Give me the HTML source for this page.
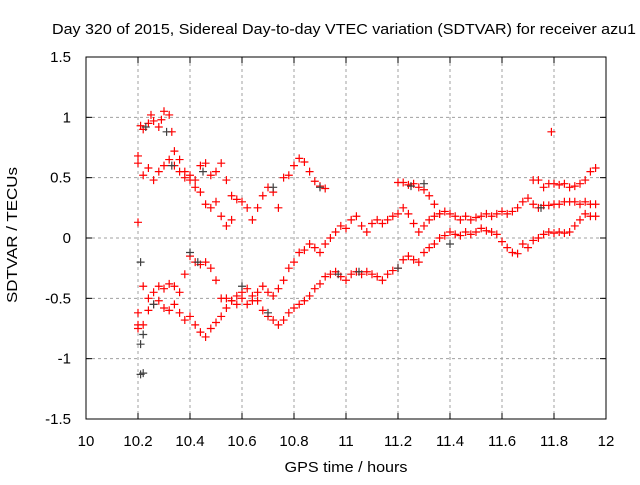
<!DOCTYPE html>
<html><head><meta charset="utf-8"><style>
body{margin:0;background:#fff}
svg text{font-family:"Liberation Sans",sans-serif;font-size:15px;fill:#000}
</style></head><body>
<svg id="chart" width="640" height="480" viewBox="0 0 640 480" xmlns="http://www.w3.org/2000/svg">
<rect width="640" height="480" fill="#fff"/>
<text x="52" y="34" textLength="584" lengthAdjust="spacingAndGlyphs">Day 320 of 2015, Sidereal Day-to-day VTEC variation (SDTVAR) for receiver azu1</text>
<text x="0" y="0" text-anchor="middle" textLength="136" lengthAdjust="spacingAndGlyphs" transform="translate(17 235) rotate(-90)">SDTVAR / TECUs</text>
<text x="346" y="472" text-anchor="middle" textLength="123" lengthAdjust="spacingAndGlyphs">GPS time / hours</text>
<g id="grid"></g><g id="axes"></g><g id="marks"></g>
</svg>
<script>
const xTicks=[10,10.2,10.4,10.6,10.8,11,11.2,11.4,11.6,11.8,12];
const xTickLabels=["10","10.2","10.4","10.6","10.8","11","11.2","11.4","11.6","11.8","12"];
const yTicks=[-1.5,-1,-0.5,0,0.5,1,1.5];
const yTickLabels=["-1.5","-1","-0.5","0","0.5","1","1.5"];
const trackA1=[[10.20,0.68],[10.21,0.93],[10.22,0.90],[10.24,0.95],[10.25,1.02],[10.26,0.97],[10.28,0.92],[10.29,0.98],[10.30,1.05],[10.32,1.02],[10.33,0.88],[10.34,0.72],[10.36,0.65],[10.38,0.55],[10.40,0.48],[10.42,0.42],[10.44,0.38],[10.46,0.28],[10.48,0.25],[10.50,0.30],[10.52,0.18],[10.54,0.10],[10.56,0.15]];
const trackA2=[[10.20,0.62],[10.22,0.52],[10.24,0.58],[10.26,0.48],[10.28,0.55],[10.30,0.60],[10.32,0.65],[10.34,0.60],[10.36,0.55],[10.38,0.50],[10.40,0.52],[10.42,0.48],[10.44,0.60],[10.46,0.62],[10.48,0.52],[10.50,0.55],[10.52,0.62],[10.54,0.48],[10.56,0.35],[10.58,0.32],[10.60,0.30],[10.62,0.25],[10.64,0.15],[10.66,0.25],[10.68,0.35],[10.70,0.42],[10.72,0.38],[10.74,0.25],[10.76,0.50],[10.78,0.52],[10.80,0.60],[10.82,0.66],[10.84,0.63],[10.86,0.55],[10.88,0.47],[10.90,0.43],[10.92,0.41]];
const trackB=[[10.20,-0.62],[10.22,-0.40],[10.24,-0.50],[10.26,-0.45],[10.28,-0.40],[10.30,-0.42],[10.32,-0.38],[10.34,-0.40],[10.36,-0.45],[10.38,-0.30],[10.40,-0.15],[10.42,-0.20],[10.44,-0.22],[10.46,-0.20],[10.48,-0.25],[10.50,-0.35],[10.52,-0.50],[10.54,-0.50],[10.56,-0.52],[10.58,-0.55],[10.60,-0.45],[10.62,-0.42],[10.64,-0.48],[10.66,-0.52],[10.68,-0.60],[10.70,-0.65],[10.72,-0.68],[10.74,-0.72],[10.76,-0.68],[10.78,-0.62],[10.80,-0.58],[10.82,-0.55],[10.84,-0.52],[10.86,-0.48],[10.88,-0.42],[10.90,-0.38],[10.92,-0.32],[10.94,-0.30],[10.96,-0.28],[10.98,-0.32],[11.00,-0.35],[11.02,-0.30],[11.04,-0.28],[11.06,-0.30],[11.08,-0.28],[11.10,-0.30],[11.12,-0.32],[11.14,-0.35],[11.16,-0.30],[11.18,-0.27],[11.20,-0.25],[11.22,-0.18],[11.24,-0.15],[11.26,-0.18],[11.28,-0.20],[11.30,-0.12],[11.32,-0.08],[11.34,-0.05],[11.36,0.00],[11.38,0.02],[11.40,0.05],[11.42,0.03],[11.44,0.02],[11.46,0.05],[11.48,0.03],[11.50,0.05],[11.52,0.08],[11.54,0.06],[11.56,0.05],[11.58,0.03],[11.60,-0.03],[11.62,-0.08],[11.64,-0.12],[11.66,-0.13],[11.68,-0.05],[11.70,-0.08],[11.72,-0.02],[11.74,0.00],[11.76,0.03],[11.78,0.05],[11.80,0.04],[11.82,0.05],[11.84,0.04],[11.86,0.05],[11.88,0.10],[11.90,0.15],[11.92,0.20],[11.94,0.18],[11.96,0.18]];
const trackC=[[10.20,-0.75],[10.22,-0.72],[10.24,-0.60],[10.26,-0.55],[10.28,-0.52],[10.30,-0.58],[10.32,-0.60],[10.34,-0.55],[10.36,-0.62],[10.38,-0.68],[10.40,-0.65],[10.42,-0.72],[10.44,-0.78],[10.46,-0.82],[10.48,-0.75],[10.50,-0.70],[10.52,-0.65],[10.54,-0.58],[10.56,-0.52],[10.58,-0.48],[10.60,-0.50],[10.62,-0.55],[10.64,-0.52],[10.66,-0.45],[10.68,-0.40],[10.70,-0.45],[10.72,-0.48],[10.74,-0.42],[10.76,-0.35],[10.78,-0.25],[10.80,-0.20],[10.82,-0.12],[10.84,-0.10],[10.86,-0.05],[10.88,-0.08],[10.90,-0.12],[10.92,-0.05],[10.94,0.00],[10.96,0.05],[10.98,0.10],[11.00,0.08],[11.02,0.15],[11.04,0.18],[11.06,0.10],[11.08,0.05],[11.10,0.12],[11.12,0.15],[11.14,0.12],[11.16,0.15],[11.18,0.18],[11.20,0.20],[11.22,0.25],[11.24,0.20],[11.26,0.12],[11.28,0.05],[11.30,0.10],[11.32,0.15],[11.34,0.18],[11.36,0.20],[11.38,0.22],[11.40,0.20],[11.42,0.18],[11.44,0.15],[11.46,0.18],[11.48,0.15],[11.50,0.17],[11.52,0.18],[11.54,0.20],[11.56,0.18],[11.58,0.20],[11.60,0.22],[11.62,0.20],[11.64,0.22],[11.66,0.25],[11.68,0.30],[11.70,0.33],[11.72,0.28],[11.74,0.25],[11.76,0.27],[11.78,0.27],[11.80,0.28],[11.82,0.28],[11.84,0.30],[11.86,0.30],[11.88,0.30],[11.90,0.28],[11.92,0.30],[11.94,0.28],[11.96,0.28]];
const trackD=[[11.20,0.46],[11.22,0.46],[11.24,0.44],[11.26,0.45],[11.28,0.42],[11.30,0.40],[11.32,0.35],[11.34,0.28],[11.36,0.20]];
const trackE=[[11.72,0.48],[11.74,0.48],[11.76,0.42],[11.78,0.45],[11.79,0.88],[11.80,0.45],[11.82,0.44],[11.84,0.45],[11.86,0.42],[11.88,0.43],[11.90,0.45],[11.92,0.48],[11.94,0.55],[11.96,0.58],[10.20,0.13],[10.20,-0.72]];
const grayPts=[[10.21,-1.13],[10.22,-1.12],[10.21,-0.88],[10.22,-0.80],[10.21,-0.20],[10.23,0.92],[10.31,0.88],[10.33,0.60],[10.45,0.55],[10.40,-0.12],[10.43,-0.20],[10.60,-0.40],[10.70,-0.62],[10.90,0.42],[11.05,-0.28],[11.20,-0.25],[11.30,0.45],[11.40,-0.05],[11.75,0.25],[10.97,-0.30],[11.25,0.43],[10.26,-0.55],[10.72,0.42]];
const NS="http://www.w3.org/2000/svg";
const L=86,R=606,T=57,B=419;
function sx(v){return L+(v-10)/2*(R-L);}
function sy(v){return B-(v+1.5)/3*(B-T);}
function mk(tag,attrs,parent){const e=document.createElementNS(NS,tag);for(const k in attrs)e.setAttribute(k,attrs[k]);parent.appendChild(e);return e;}
const grid=document.getElementById('grid'),axes=document.getElementById('axes'),marks=document.getElementById('marks');
xTicks.forEach((t,i)=>{const x=sx(t);
 if(i>0&&i<xTicks.length-1){const g=mk('line',{x1:x,x2:x,y1:T,y2:B,stroke:'#a0a0a0','stroke-dasharray':'3,3'},grid);
 
 }
 mk('line',{x1:x,x2:x,y1:B,y2:B-6,stroke:'#000'},axes);mk('line',{x1:x,x2:x,y1:T,y2:T+6,stroke:'#000'},axes);
 const tx=mk('text',{x:x,y:B+27,'text-anchor':'middle'},axes);tx.textContent=xTickLabels[i];
 
 });
yTicks.forEach((t,i)=>{const y=sy(t);
 if(i>0&&i<yTicks.length-1){const g=mk('line',{x1:L,x2:R,y1:y,y2:y,stroke:'#a0a0a0','stroke-dasharray':'3,3'},grid);
 
 }
 mk('line',{x1:L,x2:L+6,y1:y,y2:y,stroke:'#000'},axes);mk('line',{x1:R,x2:R-6,y1:y,y2:y,stroke:'#000'},axes);
 const tx=mk('text',{x:L-15,y:y+5,'text-anchor':'end'},axes);tx.textContent=yTickLabels[i];
 
 });
const fr=mk('rect',{x:L,y:T,width:R-L,height:B-T,fill:'none',stroke:'#000'},axes);


function plus(p,color,name){const x=sx(p[0]),y=sy(p[1]);
 const e=mk('path',{d:`M${x-4},${y}H${x+4}M${x},${y-4}V${y+4}`,stroke:color,'stroke-width':1.2,fill:'none'},marks);
 
 }
[trackA1,trackA2,trackB,trackC,trackD,trackE].forEach(tr=>tr.forEach(p=>plus(p,'#ff0000','sdtvar-point')));
grayPts.forEach(p=>plus(p,'#404040','sdtvar-point-gray'));
</script>
</body></html>
